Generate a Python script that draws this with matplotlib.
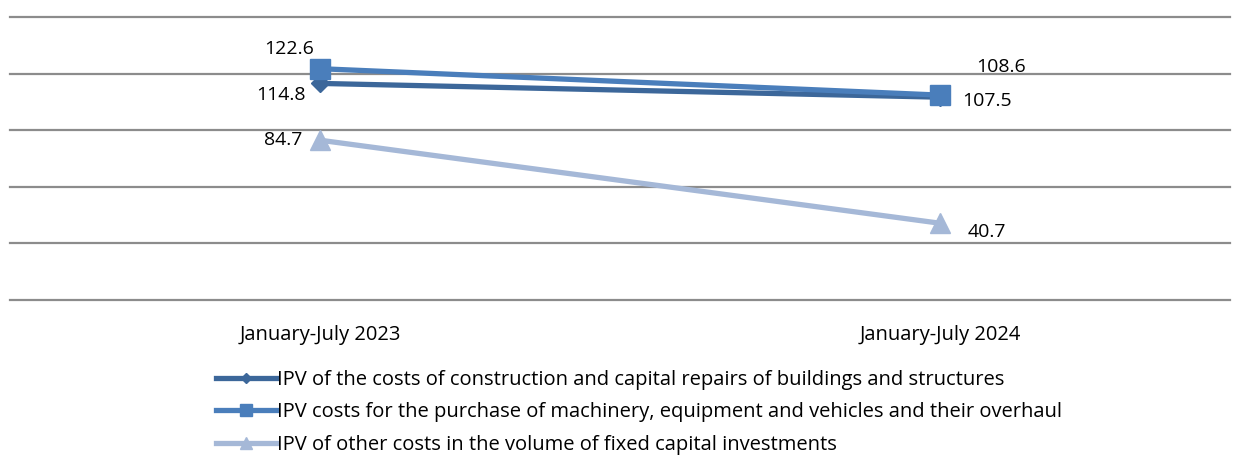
import matplotlib.pyplot as plt
from matplotlib.lines import Line2D

# data
periods = ['January-July 2023', 'January-July 2024']
construction = [114.8, 107.5]
machinery = [122.6, 108.6]
other = [84.7, 40.7]
names = ['IPV of the costs of construction and capital repairs of buildings and structures',
         'IPV costs for the purchase of machinery, equipment and vehicles and their overhaul',
         'IPV of other costs in the volume of fixed capital investments']

plt.rcParams['font.family'] = ['Open Sans', 'DejaVu Sans']

W, H = 1240, 457
fig = plt.figure(figsize=(W / 100, H / 100), dpi=100)
ax = fig.add_axes([10 / W, (H - 300) / H, 1220 / W, 283 / H])

x = [0, 1]
c1, c2, c3 = '#3C679A', '#4A7EBB', '#A5B8D7'
ax.plot(x, construction, color=c1, lw=3.8, marker='D', ms=9, zorder=3)
ax.plot(x, machinery, color=c2, lw=3.8, marker='s', ms=14, zorder=4)
ax.plot(x, other, color=c3, lw=3.8, marker='^', ms=15, zorder=3)

ax.set_xlim(-0.5, 1.468)
ax.set_ylim(0, 150)
ax.set_yticks(range(0, 151, 30))
ax.yaxis.grid(True, color='#8c8c8c', lw=1.6)
for g in ax.get_ygridlines():
    g.set_clip_on(False)
ax.set_axisbelow(True)
ax.tick_params(axis='y', left=False, labelleft=False)
ax.set_xticks(x)
ax.set_xticklabels(periods, fontsize=14.5)
ax.tick_params(axis='x', length=0, pad=18)
for s in ax.spines.values():
    s.set_visible(False)

fs = 14
def lab(xi, yi, dx, dy, ha):
    ax.annotate(f'{yi}', (xi, yi), xytext=(dx, dy), textcoords='offset points',
                ha=ha, va='center', fontsize=fs)

lab(0, machinery[0], -22, 14, 'center')
lab(0, construction[0], -10, -8, 'right')
lab(0, other[0], -13, 0, 'right')
lab(1, machinery[1], 44, 20, 'center')
lab(1, construction[1], 16, -3, 'left')
lab(1, other[1], 20, -6, 'left')

handles = [
    Line2D([], [], color=c1, lw=3.8, marker='D', ms=5),
    Line2D([], [], color=c2, lw=3.8, marker='s', ms=9),
    Line2D([], [], color=c3, lw=3.8, marker='^', ms=9),
]
fig.legend(handles, names, loc='upper left', bbox_to_anchor=(216 / W, 1 - 370 / H),
           frameon=False, fontsize=14.5, handlelength=3.0, handletextpad=0.05,
           labelspacing=0.62, borderaxespad=0, borderpad=0)

fig.savefig('out.png', dpi=100)
